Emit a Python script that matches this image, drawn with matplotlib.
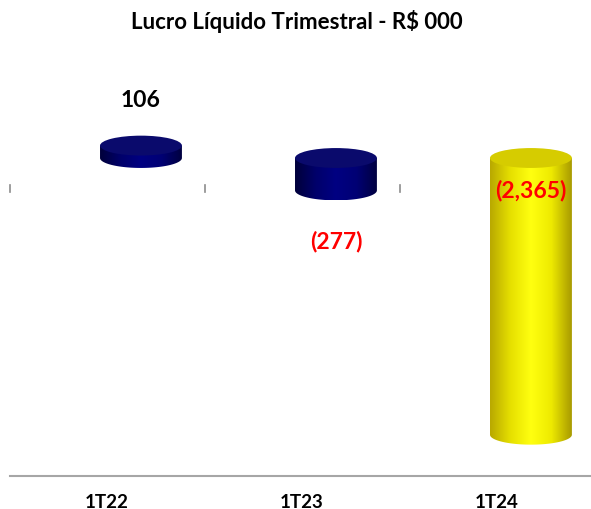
import matplotlib
matplotlib.use("Agg")
import matplotlib.pyplot as plt
import numpy as np
from matplotlib.patches import Ellipse, Polygon
from matplotlib.colors import LinearSegmentedColormap

plt.rcParams['font.family'] = ['Lato', 'DejaVu Sans']

categories = ['1T22', '1T23', '1T24']
values = [106, -277, -2365]
labels = ['106', '(277)', '(2,365)']
label_colors = ['black', 'red', 'red']

bar_side = [
    ['#00003a', '#00006a', '#000082', '#000074', '#000040'],
    ['#00003a', '#00006a', '#000082', '#000074', '#000040'],
    ['#b8a800', '#e6e000', '#ffff10', '#eeea00', '#a89a00'],
]
bar_top = ['#0a0a6c', '#0a0a6c', '#d6cc00']

fig = plt.figure(figsize=(5.91, 5.10), dpi=100)
ax = fig.add_axes([0, 0, 1, 1])
ax.set_xlim(-0.549, 2.482)
ax.set_ylim(-3000, 1359)
ax.axis('off')

shift = 0.174      # 3d offset of the bars
bw = 0.42          # bar width
eh = 85            # half height of the ellipse caps

for i, v in enumerate(values):
    cx = i + shift
    lo, hi = min(0, v), max(0, v)
    left, right = cx - bw / 2, cx + bw / 2
    t = np.linspace(0, np.pi, 60)
    pts = [(left, hi), (right, hi)]
    pts += list(zip(cx + bw / 2 * np.cos(t), lo - eh * np.sin(t)))
    side = Polygon(pts, closed=True, facecolor='none', edgecolor='none')
    ax.add_patch(side)
    cmap = LinearSegmentedColormap.from_list('c%d' % i, bar_side[i])
    grad = np.linspace(0, 1, 256).reshape(1, -1)
    im = ax.imshow(grad, cmap=cmap, aspect='auto', interpolation='bicubic',
                   extent=(left, right, lo - eh, hi), zorder=2)
    im.set_clip_path(side)
    ax.add_patch(Ellipse((cx, hi), bw, 2 * eh, facecolor=bar_top[i],
                         edgecolor='none', zorder=3))

    if v >= 0:
        ly = hi + 390
    elif v > -1000:
        ly = lo - 430
    else:
        ly = -265
    ax.text(cx, ly, labels[i], ha='center', va='center', fontsize=16.5,
            fontweight='bold', color=label_colors[i], zorder=4)

    ax.text(i, -2940, categories[i], ha='center', va='center', fontsize=13.5,
            fontweight='bold', color='black')

# category boundary ticks and floor line
for b in np.arange(len(categories)) - 0.5:
    ax.plot([b, b], [-231, -291], color='#8c8c8c', lw=1.2, zorder=1)
ax.plot([-0.5, 2.482], [-2718, -2718], color='#a6a6a6', lw=1.5, zorder=1)

ax.text(0.502, 0.957, 'Lucro Líquido Trimestral - R$ 000', transform=ax.transAxes,
        ha='center', va='center', fontsize=16, fontweight='bold')

fig.savefig('out.png', dpi=100)
